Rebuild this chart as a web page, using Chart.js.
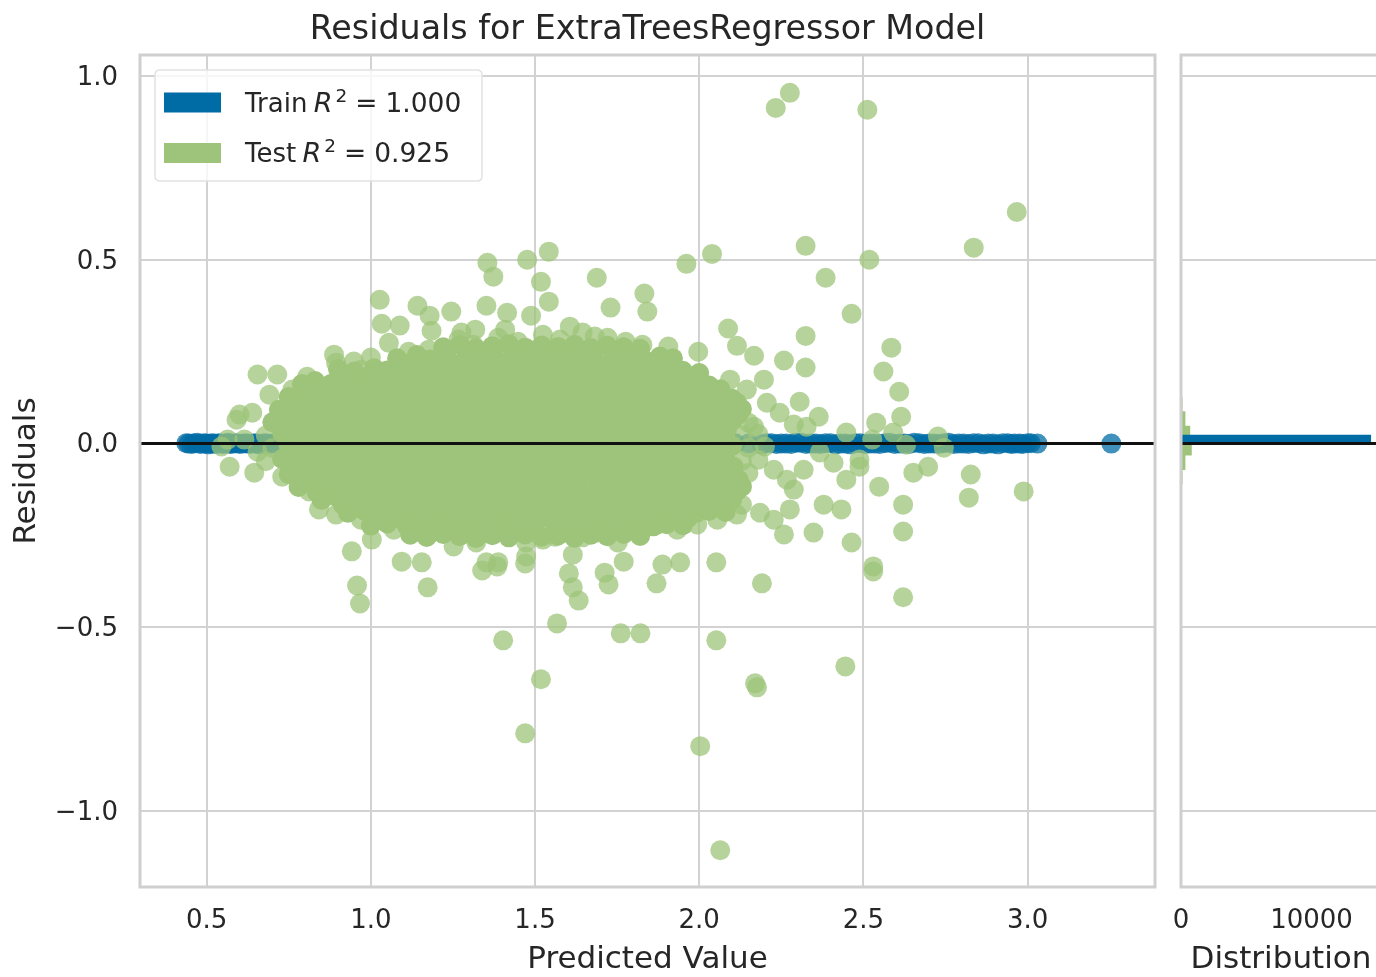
<!DOCTYPE html>
<html>
<head>
<meta charset="utf-8">
<script src="https://cdn.jsdelivr.net/npm/chart.js@4.4.1/dist/chart.umd.min.js"></script>
<style>
html,body{margin:0;padding:0;background:#fff;overflow:hidden;}
#wrap{position:relative;width:1376px;height:977px;overflow:hidden;background:#fff;}
#main{position:absolute;left:0;top:0;}
#hist{position:absolute;left:1165px;top:0;}
</style>
</head>
<body>
<div id="wrap">
<canvas id="main" width="1165" height="977"></canvas>
<canvas id="hist" width="226" height="977"></canvas>
</div>
<script>
// ---------------- data ----------------
const titleText = 'Residuals for ExtraTreesRegressor Model';
const xLabel = 'Predicted Value';
const yLabel = 'Residuals';
const distLabel = 'Distribution';

const xTicks = [0.5, 1.0, 1.5, 2.0, 2.5, 3.0];
const yTicks = [-1.0, -0.5, 0.0, 0.5, 1.0];
const distTicks = [0, 10000];

const xRange = [0.297, 3.388];
const yRange = [-1.206, 1.057];
const distRange = [0, 15326];

const seriesNames = ['Train', 'Test'];
const seriesR2 = ['1.000', '0.925'];

// Train: [predicted, residual]
const trainPoints = [
[0.438,0.001],[0.445,0.0],[0.455,-0.001],[0.462,0.001],[0.472,0.002],[0.48,-0.001],[0.49,0.0],[0.497,0.001],
[0.505,-0.002],[0.512,0.0],[0.52,0.001],[0.527,-0.001],[0.535,0.0],[0.542,0.001],[0.55,-0.001],[0.557,0.0],
[0.565,0.002],[0.572,-0.001],[0.58,0.0],[0.59,0.001],[0.60,-0.001],[0.61,0.0],[0.62,0.001],[0.63,-0.001],
[0.64,0.0],[0.65,0.001],[0.66,-0.002],[0.67,0.0],[0.68,0.001],[0.69,-0.001],[0.70,0.0],
[0.73,-0.001],[0.76,0.002],[0.80,0.0],[0.85,-0.001],[0.90,0.001],[0.95,0.0],[1.00,-0.001],[1.06,0.001],
[1.12,0.0],[1.18,-0.002],[1.24,0.001],[1.30,0.0],[1.36,-0.001],[1.42,0.002],[1.48,0.0],[1.54,-0.001],
[1.60,0.001],[1.66,0.0],[1.72,-0.001],[1.78,0.002],[1.84,0.0],[1.90,-0.001],[1.96,0.001],[2.02,0.0],
[2.07,-0.001],[2.11,0.001],[2.15,0.0],[2.19,-0.002],[2.205,0.001],[2.22,0.001],[2.235,-0.001],[2.25,0.0],
[2.265,0.0],[2.28,-0.001],[2.295,0.002],[2.31,0.002],[2.325,-0.001],[2.34,0.0],[2.355,0.0],[2.37,-0.001],
[2.385,0.001],[2.40,0.001],[2.415,-0.002],[2.43,0.0],[2.445,0.0],[2.46,-0.002],[2.475,0.001],[2.49,0.001],
[2.505,-0.001],[2.52,0.0],[2.535,0.0],[2.55,-0.001],[2.565,0.001],[2.58,0.002],[2.595,-0.001],[2.61,0.0],
[2.625,0.0],[2.64,-0.001],[2.655,0.002],[2.67,0.001],[2.685,-0.001],[2.70,0.0],[2.715,0.0],[2.73,-0.001],
[2.745,0.001],[2.76,0.002],[2.775,-0.001],[2.79,0.0],[2.805,0.0],[2.82,-0.001],[2.835,0.001],[2.85,0.001],
[2.865,-0.002],[2.88,0.0],[2.895,0.0],[2.91,-0.002],[2.925,0.001],[2.94,0.001],[2.95,-0.001],[2.96,0.0],
[2.975,0.0],[2.985,-0.001],[3.0,0.001],[3.01,0.001],[3.03,0.0],[3.255,0.0]
];

// Test: dense core of the cloud, [predicted, residual]
const testCore = [
[1.22,0.262],[1.27,0.268],[1.32,0.259],[1.37,0.265],[1.42,0.270],[1.47,0.261],[1.52,0.267],[1.57,0.263],[1.62,0.269],[1.67,0.260],[1.72,0.266],[1.77,0.262],[1.82,0.258],
[1.08,0.232],[1.14,0.241],[1.18,0.229],[1.23,0.238],[1.29,0.233],[1.33,0.244],[1.38,0.231],[1.44,0.237],[1.48,0.242],[1.53,0.228],[1.59,0.236],[1.63,0.240],[1.68,0.230],[1.74,0.235],[1.78,0.243],[1.83,0.229],[1.88,0.237],[1.92,0.232],
[0.90,0.203],[0.95,0.196],[1.01,0.205],[1.05,0.199],[1.10,0.193],[1.16,0.204],[1.20,0.198],[1.25,0.207],[1.31,0.195],[1.35,0.201],[1.40,0.206],[1.46,0.197],[1.50,0.203],[1.55,0.194],[1.61,0.202],[1.65,0.199],[1.70,0.205],[1.76,0.196],[1.80,0.201],[1.85,0.194],[1.91,0.204],[1.95,0.198],[2.00,0.192],
[0.79,0.162],[0.83,0.170],[0.88,0.163],[0.94,0.168],[0.98,0.159],[1.03,0.166],[1.09,0.171],[1.13,0.161],[1.18,0.167],[1.24,0.163],[1.28,0.169],[1.33,0.160],[1.39,0.166],[1.43,0.172],[1.48,0.162],[1.54,0.167],[1.58,0.164],[1.63,0.170],[1.69,0.161],[1.73,0.166],[1.78,0.168],[1.84,0.160],[1.88,0.165],[1.93,0.171],[1.98,0.162],[2.03,0.158],
[0.75,0.127],[0.80,0.134],[0.86,0.129],[0.90,0.136],[0.95,0.125],[1.01,0.131],[1.05,0.128],[1.10,0.135],[1.16,0.126],[1.20,0.132],[1.25,0.129],[1.31,0.136],[1.35,0.124],[1.40,0.130],[1.46,0.133],[1.50,0.127],[1.55,0.135],[1.61,0.128],[1.65,0.131],[1.70,0.126],[1.76,0.134],[1.80,0.129],[1.85,0.132],[1.91,0.125],[1.95,0.131],[2.00,0.136],[2.06,0.127],[2.10,0.122],
[0.72,0.092],[0.78,0.098],[0.83,0.091],[0.88,0.097],[0.94,0.094],[0.98,0.100],[1.03,0.090],[1.09,0.096],[1.13,0.093],[1.18,0.099],[1.24,0.091],[1.28,0.097],[1.33,0.094],[1.39,0.100],[1.43,0.092],[1.48,0.095],[1.54,0.098],[1.58,0.090],[1.63,0.096],[1.69,0.093],[1.73,0.099],[1.78,0.091],[1.84,0.097],[1.88,0.094],[1.93,0.100],[1.99,0.092],[2.03,0.096],[2.08,0.090],[2.13,0.094],
[0.70,0.058],[0.75,0.064],[0.81,0.057],[0.85,0.062],[0.90,0.055],[0.96,0.061],[1.00,0.065],[1.05,0.056],[1.11,0.062],[1.15,0.059],[1.20,0.064],[1.26,0.055],[1.30,0.061],[1.35,0.058],[1.41,0.063],[1.45,0.056],[1.50,0.062],[1.56,0.059],[1.60,0.064],[1.65,0.057],[1.71,0.061],[1.75,0.055],[1.80,0.063],[1.86,0.058],[1.90,0.061],[1.95,0.056],[2.01,0.064],[2.05,0.059],[2.10,0.062],
[0.73,0.028],[0.78,0.021],[0.84,0.027],[0.88,0.024],[0.93,0.030],[0.99,0.020],[1.03,0.026],[1.08,0.023],[1.14,0.029],[1.18,0.021],[1.23,0.027],[1.29,0.024],[1.33,0.030],[1.38,0.022],[1.44,0.025],[1.48,0.028],[1.53,0.020],[1.59,0.026],[1.63,0.023],[1.68,0.029],[1.74,0.021],[1.78,0.027],[1.83,0.024],[1.89,0.030],[1.93,0.022],[1.98,0.026],[2.04,0.020],[2.08,0.028],
[0.75,-0.006],[0.81,-0.013],[0.85,-0.007],[0.90,-0.010],[0.96,-0.004],[1.00,-0.014],[1.05,-0.008],[1.11,-0.011],[1.15,-0.005],[1.20,-0.013],[1.26,-0.007],[1.30,-0.010],[1.35,-0.004],[1.41,-0.012],[1.45,-0.009],[1.50,-0.006],[1.56,-0.014],[1.60,-0.008],[1.65,-0.011],[1.71,-0.005],[1.75,-0.013],[1.80,-0.007],[1.86,-0.010],[1.90,-0.004],[1.95,-0.012],[2.01,-0.008],[2.05,-0.014],[2.10,-0.006],
[0.73,-0.042],[0.78,-0.049],[0.84,-0.043],[0.88,-0.046],[0.93,-0.040],[0.99,-0.050],[1.03,-0.044],[1.08,-0.047],[1.14,-0.041],[1.18,-0.049],[1.23,-0.043],[1.29,-0.046],[1.33,-0.040],[1.38,-0.048],[1.44,-0.045],[1.48,-0.042],[1.53,-0.050],[1.59,-0.044],[1.63,-0.047],[1.68,-0.041],[1.74,-0.049],[1.78,-0.043],[1.83,-0.046],[1.89,-0.040],[1.93,-0.048],[1.98,-0.044],[2.04,-0.050],[2.08,-0.042],
[0.75,-0.083],[0.80,-0.077],[0.86,-0.084],[0.90,-0.078],[0.95,-0.081],[1.01,-0.075],[1.05,-0.085],[1.10,-0.079],[1.16,-0.082],[1.20,-0.076],[1.25,-0.084],[1.31,-0.078],[1.35,-0.081],[1.40,-0.075],[1.46,-0.083],[1.50,-0.080],[1.55,-0.077],[1.61,-0.085],[1.65,-0.079],[1.70,-0.082],[1.76,-0.076],[1.80,-0.084],[1.85,-0.078],[1.91,-0.081],[1.95,-0.075],[2.00,-0.083],[2.06,-0.079],[2.10,-0.085],
[0.78,-0.118],[0.83,-0.112],[0.88,-0.119],[0.94,-0.113],[0.98,-0.116],[1.03,-0.110],[1.09,-0.120],[1.13,-0.114],[1.18,-0.117],[1.24,-0.111],[1.28,-0.119],[1.33,-0.113],[1.39,-0.116],[1.43,-0.110],[1.48,-0.118],[1.54,-0.115],[1.58,-0.112],[1.63,-0.120],[1.69,-0.114],[1.73,-0.117],[1.78,-0.111],[1.84,-0.119],[1.88,-0.113],[1.93,-0.116],[1.99,-0.110],[2.03,-0.118],[2.08,-0.114],[2.13,-0.117],
[0.85,-0.153],[0.90,-0.147],[0.96,-0.154],[1.00,-0.148],[1.05,-0.151],[1.11,-0.145],[1.15,-0.155],[1.20,-0.149],[1.26,-0.152],[1.30,-0.146],[1.35,-0.154],[1.41,-0.148],[1.45,-0.151],[1.50,-0.145],[1.56,-0.153],[1.60,-0.150],[1.65,-0.147],[1.71,-0.155],[1.75,-0.149],[1.80,-0.152],[1.86,-0.146],[1.90,-0.154],[1.95,-0.148],[2.01,-0.151],[2.05,-0.145],[2.10,-0.153],
[0.93,-0.188],[0.98,-0.182],[1.03,-0.189],[1.09,-0.183],[1.13,-0.186],[1.18,-0.180],[1.24,-0.190],[1.28,-0.184],[1.33,-0.187],[1.39,-0.181],[1.43,-0.189],[1.48,-0.183],[1.54,-0.186],[1.58,-0.180],[1.63,-0.188],[1.69,-0.185],[1.73,-0.182],[1.78,-0.190],[1.84,-0.184],[1.88,-0.187],[1.93,-0.181],[1.99,-0.189],[2.03,-0.183],[2.08,-0.186],
[1.00,-0.223],[1.05,-0.217],[1.11,-0.224],[1.15,-0.218],[1.20,-0.221],[1.26,-0.215],[1.30,-0.225],[1.35,-0.219],[1.41,-0.222],[1.45,-0.216],[1.50,-0.224],[1.56,-0.218],[1.60,-0.221],[1.65,-0.215],[1.71,-0.223],[1.75,-0.220],[1.80,-0.217],[1.86,-0.225],[1.90,-0.219],[1.95,-0.222],
[1.12,-0.248],[1.17,-0.254],[1.22,-0.246],[1.27,-0.252],[1.32,-0.257],[1.37,-0.249],[1.42,-0.255],[1.47,-0.247],[1.52,-0.253],[1.57,-0.250],[1.62,-0.256],[1.67,-0.248],[1.72,-0.252],[1.77,-0.246],[1.82,-0.251]
];

// Test: further core points lying between the rows above
const testCoreMid = [
[1.115,0.218],[1.165,0.215],[1.215,0.220],[1.265,0.216],[1.315,0.219],[1.365,0.214],[1.415,0.221],[1.465,0.217],[1.515,0.215],[1.565,0.220],[1.615,0.216],[1.665,0.219],[1.715,0.214],[1.765,0.218],[1.815,0.221],[1.865,0.216],[1.915,0.219],
[0.915,0.183],[0.965,0.180],[1.015,0.185],[1.065,0.181],[1.115,0.184],[1.165,0.179],[1.215,0.186],[1.265,0.182],[1.315,0.180],[1.365,0.185],[1.415,0.181],[1.465,0.184],[1.515,0.179],[1.565,0.183],[1.615,0.186],[1.665,0.181],[1.715,0.184],[1.765,0.180],[1.815,0.185],[1.865,0.182],[1.915,0.179],[1.965,0.184],
[0.815,0.148],[0.865,0.145],[0.915,0.150],[0.965,0.146],[1.015,0.149],[1.065,0.144],[1.115,0.151],[1.165,0.147],[1.215,0.145],[1.265,0.150],[1.315,0.146],[1.365,0.149],[1.415,0.144],[1.465,0.148],[1.515,0.151],[1.565,0.146],[1.615,0.149],[1.665,0.145],[1.715,0.150],[1.765,0.147],[1.815,0.144],[1.865,0.149],[1.915,0.146],[1.965,0.150],[2.015,0.145],[2.065,0.148],
[0.765,0.113],[0.815,0.110],[0.865,0.115],[0.915,0.111],[0.965,0.114],[1.015,0.109],[1.065,0.116],[1.115,0.112],[1.165,0.110],[1.215,0.115],[1.265,0.111],[1.315,0.114],[1.365,0.109],[1.415,0.113],[1.465,0.116],[1.515,0.111],[1.565,0.114],[1.615,0.110],[1.665,0.115],[1.715,0.112],[1.765,0.109],[1.815,0.114],[1.865,0.111],[1.915,0.115],[1.965,0.110],[2.015,0.113],[2.065,0.116],[2.115,0.111],
[0.735,0.078],[0.785,0.075],[0.835,0.080],[0.885,0.076],[0.935,0.079],[0.985,0.074],[1.035,0.081],[1.085,0.077],[1.135,0.075],[1.185,0.080],[1.235,0.076],[1.285,0.079],[1.335,0.074],[1.385,0.078],[1.435,0.081],[1.485,0.076],[1.535,0.079],[1.585,0.075],[1.635,0.080],[1.685,0.077],[1.735,0.074],[1.785,0.079],[1.835,0.076],[1.885,0.080],[1.935,0.075],[1.985,0.078],[2.035,0.081],[2.085,0.076],[2.12,0.079],
[0.735,0.043],[0.785,0.040],[0.835,0.045],[0.885,0.041],[0.935,0.044],[0.985,0.039],[1.035,0.046],[1.085,0.042],[1.135,0.040],[1.185,0.045],[1.235,0.041],[1.285,0.044],[1.335,0.039],[1.385,0.043],[1.435,0.046],[1.485,0.041],[1.535,0.044],[1.585,0.040],[1.635,0.045],[1.685,0.042],[1.735,0.039],[1.785,0.044],[1.835,0.041],[1.885,0.045],[1.935,0.040],[1.985,0.043],[2.035,0.046],[2.085,0.041],
[0.765,0.008],[0.815,0.005],[0.865,0.010],[0.915,0.006],[0.965,0.009],[1.015,0.004],[1.065,0.011],[1.115,0.007],[1.165,0.005],[1.215,0.010],[1.265,0.006],[1.315,0.009],[1.365,0.004],[1.415,0.008],[1.465,0.011],[1.515,0.006],[1.565,0.009],[1.615,0.005],[1.665,0.010],[1.715,0.007],[1.765,0.004],[1.815,0.009],[1.865,0.006],[1.915,0.010],[1.965,0.005],[2.015,0.008],[2.065,0.011],
[0.765,-0.027],[0.815,-0.030],[0.865,-0.025],[0.915,-0.029],[0.965,-0.026],[1.015,-0.031],[1.065,-0.024],[1.115,-0.028],[1.165,-0.030],[1.215,-0.025],[1.265,-0.029],[1.315,-0.026],[1.365,-0.031],[1.415,-0.027],[1.465,-0.024],[1.515,-0.029],[1.565,-0.026],[1.615,-0.030],[1.665,-0.025],[1.715,-0.028],[1.765,-0.031],[1.815,-0.026],[1.865,-0.029],[1.915,-0.025],[1.965,-0.030],[2.015,-0.027],[2.065,-0.024],
[0.765,-0.062],[0.815,-0.065],[0.865,-0.060],[0.915,-0.064],[0.965,-0.061],[1.015,-0.066],[1.065,-0.059],[1.115,-0.063],[1.165,-0.065],[1.215,-0.060],[1.265,-0.064],[1.315,-0.061],[1.365,-0.066],[1.415,-0.062],[1.465,-0.059],[1.515,-0.064],[1.565,-0.061],[1.615,-0.065],[1.665,-0.060],[1.715,-0.063],[1.765,-0.066],[1.815,-0.061],[1.865,-0.064],[1.915,-0.060],[1.965,-0.065],[2.015,-0.062],[2.065,-0.059],[2.105,-0.063],
[0.785,-0.097],[0.835,-0.100],[0.885,-0.095],[0.935,-0.099],[0.985,-0.096],[1.035,-0.101],[1.085,-0.094],[1.135,-0.098],[1.185,-0.100],[1.235,-0.095],[1.285,-0.099],[1.335,-0.096],[1.385,-0.101],[1.435,-0.097],[1.485,-0.094],[1.535,-0.099],[1.585,-0.096],[1.635,-0.100],[1.685,-0.095],[1.735,-0.098],[1.785,-0.101],[1.835,-0.096],[1.885,-0.099],[1.935,-0.095],[1.985,-0.100],[2.035,-0.097],[2.085,-0.094],[2.12,-0.098],
[0.835,-0.132],[0.885,-0.135],[0.935,-0.130],[0.985,-0.134],[1.035,-0.131],[1.085,-0.136],[1.135,-0.129],[1.185,-0.133],[1.235,-0.135],[1.285,-0.130],[1.335,-0.134],[1.385,-0.131],[1.435,-0.136],[1.485,-0.132],[1.535,-0.129],[1.585,-0.134],[1.635,-0.131],[1.685,-0.135],[1.735,-0.130],[1.785,-0.133],[1.835,-0.136],[1.885,-0.131],[1.935,-0.134],[1.985,-0.130],[2.035,-0.135],[2.085,-0.132],[2.115,-0.129],
[0.915,-0.167],[0.965,-0.170],[1.015,-0.165],[1.065,-0.169],[1.115,-0.166],[1.165,-0.171],[1.215,-0.164],[1.265,-0.168],[1.315,-0.170],[1.365,-0.165],[1.415,-0.169],[1.465,-0.166],[1.515,-0.171],[1.565,-0.167],[1.615,-0.164],[1.665,-0.169],[1.715,-0.166],[1.765,-0.170],[1.815,-0.165],[1.865,-0.168],[1.915,-0.171],[1.965,-0.166],[2.015,-0.169],[2.065,-0.165],
[1.015,-0.202],[1.065,-0.205],[1.115,-0.200],[1.165,-0.204],[1.215,-0.201],[1.265,-0.206],[1.315,-0.199],[1.365,-0.203],[1.415,-0.205],[1.465,-0.200],[1.515,-0.204],[1.565,-0.201],[1.615,-0.206],[1.665,-0.202],[1.715,-0.199],[1.765,-0.204],[1.815,-0.201],[1.865,-0.205],[1.915,-0.200],[1.965,-0.203]
];

// Test: fringe and outliers, [predicted, residual]
const testOuter = [
[0.68,0.022],[0.70,-0.012],[0.68,-0.048],[2.15,0.057],[2.13,0.023],[2.18,0.026],[2.15,-0.011],[2.20,-0.008],
[2.13,-0.047],[2.18,-0.044],[2.15,-0.080],
[2.233,0.913],[2.276,0.954],[2.512,0.908],[2.967,0.630],[2.324,0.538],[2.836,0.533],[2.518,0.500],[2.385,0.451],
[2.039,0.516],[1.961,0.489],[2.464,0.353],[2.324,0.293],[2.585,0.261],[2.561,0.196],[2.324,0.207],[2.088,0.313],
[1.997,0.250],[2.167,0.239],[2.115,0.266],[2.258,0.226],[1.906,0.264],[1.833,0.408],[1.842,0.359],
[1.542,0.522],[1.476,0.500],[1.355,0.492],[1.373,0.454],[1.518,0.440],[1.688,0.451],[1.542,0.386],[1.352,0.375],
[1.488,0.348],[1.730,0.370],[1.027,0.391],[1.033,0.326],[1.088,0.321],[1.142,0.375],[1.179,0.348],[1.185,0.307],
[1.245,0.359],[1.276,0.302],[1.318,0.310],[1.415,0.356],[1.409,0.310],[1.682,0.291],[1.606,0.318],[1.055,0.274],
[0.888,0.242],[0.655,0.188],[0.715,0.188],[0.806,0.182],[0.970,0.201],[0.894,0.220],[0.761,0.147],[0.691,0.133],
[0.639,0.084],[0.600,0.079],[0.591,0.065],[0.564,0.011],[0.545,-0.008],[0.615,0.011],[0.655,-0.022],
[1.267,0.283],[1.312,0.269],[1.388,0.288],[1.448,0.277],[1.524,0.296],[1.576,0.283],[1.645,0.302],[1.721,0.288],
[1.776,0.277],[1.827,0.269],[1.176,0.255],[1.115,0.250],[1.000,0.234],[0.948,0.223],
[0.570,-0.063],[0.645,-0.079],[0.730,-0.090],[0.812,-0.130],[0.858,-0.147],[0.842,-0.179],[0.894,-0.193],[0.970,-0.207],
[0.942,-0.293],[1.003,-0.261],[1.094,-0.321],[1.155,-0.323],[1.124,-0.215],[1.212,-0.212],[1.252,-0.280],[1.282,-0.242],
[1.321,-0.269],[1.352,-0.323],[1.388,-0.323],[1.409,-0.226],[1.473,-0.269],[1.473,-0.307],[1.561,-0.253],[1.615,-0.302],
[1.691,-0.242],[1.752,-0.269],[1.812,-0.242],[1.070,-0.234],[1.176,-0.247],[1.524,-0.261],[1.645,-0.255],[1.873,-0.220],
[1.933,-0.234],[1.994,-0.220],[2.055,-0.207],[2.115,-0.193],[2.130,-0.166],
[0.958,-0.386],[0.967,-0.435],[1.173,-0.391],[1.339,-0.345],[1.385,-0.334],[1.470,-0.326],[1.603,-0.353],
[1.615,-0.391],[1.633,-0.427],[1.712,-0.351],[1.724,-0.383],[1.770,-0.321],[1.567,-0.489],[1.403,-0.535],[1.761,-0.516],
[1.821,-0.516],[1.518,-0.641],[1.470,-0.788],[1.888,-0.329],[1.942,-0.323],[2.052,-0.323],[1.870,-0.380],[2.191,-0.380],
[2.530,-0.348],[2.621,-0.418],[2.052,-0.535],[2.445,-0.606],[2.170,-0.652],[2.176,-0.663],[2.003,-0.823],[2.064,-1.106],
[2.609,0.141],[2.615,0.073],[2.727,0.019],[2.745,-0.011],[2.539,0.057],[2.591,0.030],[2.448,0.030],[2.488,-0.043],
[2.548,-0.117],[2.652,-0.079],[2.697,-0.063],[2.827,-0.084],[2.821,-0.147],[2.988,-0.130],[2.621,-0.166],[2.621,-0.239],
[2.433,-0.179],[2.379,-0.166],[2.464,-0.269],[2.348,-0.242],[2.258,-0.247],[2.530,-0.334],[2.306,0.114],[2.364,0.073],
[2.288,0.052],[2.448,-0.098],[2.488,-0.063],[2.276,-0.179],[2.227,-0.207],[2.185,-0.188],[2.288,-0.125],[2.409,-0.052],
[2.367,-0.024],[2.318,-0.071],[2.267,-0.098],[2.227,-0.071],[2.327,0.046],[2.245,0.084],[2.206,0.111],[2.167,0.046],
[2.145,0.147],[2.197,0.174],[2.094,0.174],[2.527,0.011],[2.630,-0.003]
];

// Histogram of residuals (bin centre, count)
const testHistCenters = [0.185, 0.146, 0.106, 0.0673, 0.0279, -0.0116, -0.051, -0.0904, -0.1298, -0.169];
const testHistCounts  = [10, 30, 90, 310, 680, 800, 310, 90, 30, 10];
const trainHistCenters = [0.014];
const trainHistCounts  = [14540];

// ---------------- styling ----------------
const FONT = "'DejaVu Sans', 'Liberation Sans', sans-serif";
const TEXT = '#262626';
const GRID = '#d2d2d2';
const SPINE = '#cfcfcf';
const TRAIN_RGB = '0,108,165';
const TEST_RGB = '157,196,122';

Chart.defaults.font.family = FONT;
Chart.defaults.color = TEXT;

const fmt1 = v => (v < 0 ? '\u2212' : '') + Math.abs(v).toFixed(1);
const noPad = s => { s.paddingLeft = 0; s.paddingRight = 0; s.paddingTop = 0; s.paddingBottom = 0; };

const framePlugin = {
  id: 'frame',
  afterDatasetsDraw(chart) {
    const ctx = chart.ctx, a = chart.chartArea;
    const y0 = chart.scales.y.getPixelForValue(0);
    ctx.save();
    ctx.strokeStyle = '#111111';
    ctx.lineWidth = 3;
    ctx.beginPath();
    ctx.moveTo(a.left, y0);
    ctx.lineTo(a.right, y0);
    ctx.stroke();
    ctx.strokeStyle = SPINE;
    ctx.lineWidth = 3;
    ctx.strokeRect(a.left, a.top, a.right - a.left, a.bottom - a.top);
    ctx.restore();
  }
};

const titlePlugin = {
  id: 'mtitle',
  afterDraw(chart) {
    const ctx = chart.ctx, a = chart.chartArea;
    ctx.save();
    ctx.fillStyle = TEXT;
    ctx.font = '33.3px ' + FONT;
    ctx.textAlign = 'center';
    ctx.textBaseline = 'middle';
    ctx.fillText(titleText, (a.left + a.right) / 2, 30);
    ctx.restore();
  }
};

const legendPlugin = {
  id: 'mlegend',
  afterDraw(chart) {
    const ctx = chart.ctx, a = chart.chartArea;
    const x0 = a.left + 15, y0 = a.top + 15, w = 327, h = 111, r = 5;
    ctx.save();
    ctx.beginPath();
    ctx.moveTo(x0 + r, y0);
    ctx.lineTo(x0 + w - r, y0);
    ctx.quadraticCurveTo(x0 + w, y0, x0 + w, y0 + r);
    ctx.lineTo(x0 + w, y0 + h - r);
    ctx.quadraticCurveTo(x0 + w, y0 + h, x0 + w - r, y0 + h);
    ctx.lineTo(x0 + r, y0 + h);
    ctx.quadraticCurveTo(x0, y0 + h, x0, y0 + h - r);
    ctx.lineTo(x0, y0 + r);
    ctx.quadraticCurveTo(x0, y0, x0 + r, y0);
    ctx.closePath();
    ctx.fillStyle = 'rgba(255,255,255,0.8)';
    ctx.fill();
    ctx.strokeStyle = '#e2e2e2';
    ctx.lineWidth = 1.5;
    ctx.stroke();
    const colors = ['rgb(' + TRAIN_RGB + ')', 'rgb(' + TEST_RGB + ')'];
    seriesNames.forEach((name, i) => {
      const cy = y0 + 32.5 + i * 50.5;
      ctx.fillStyle = colors[i];
      ctx.fillRect(x0 + 9, cy - 10, 57, 20);
      ctx.fillStyle = TEXT;
      ctx.textBaseline = 'alphabetic';
      ctx.textAlign = 'left';
      const base = cy + 9;
      let x = x0 + 90;
      ctx.font = '26px ' + FONT;
      const t1 = name + ' ';
      ctx.fillText(t1, x, base);
      x += ctx.measureText(t1).width - 2;
      ctx.font = 'italic 27px ' + FONT;
      ctx.fillText('R', x, base);
      x += ctx.measureText('R').width + 3;
      ctx.font = '18.5px ' + FONT;
      ctx.fillText('2', x, base - 10);
      x += ctx.measureText('2').width + 8;
      ctx.font = '26.5px ' + FONT;
      ctx.fillText('=', x, base);
      x += ctx.measureText('=').width + 8;
      ctx.fillText(seriesR2[i], x, base);
    });
    ctx.restore();
  }
};

// ---------------- main scatter ----------------
const toXY = arr => arr.map(p => ({ x: p[0], y: p[1] }));

new Chart(document.getElementById('main'), {
  type: 'scatter',
  data: {
    datasets: [
      {
        label: seriesNames[1],
        data: toXY(testOuter),
        order: 0,
        backgroundColor: 'rgba(' + TEST_RGB + ',0.75)',
        borderWidth: 0,
        pointRadius: 10,
        pointHoverRadius: 10
      },
      {
        label: seriesNames[1],
        data: toXY(testCore.concat(testCoreMid)),
        order: 1,
        backgroundColor: 'rgb(' + TEST_RGB + ')',
        borderWidth: 0,
        pointRadius: 10,
        pointHoverRadius: 10
      },
      {
        label: seriesNames[0],
        data: toXY(trainPoints),
        order: 2,
        backgroundColor: 'rgba(' + TRAIN_RGB + ',0.75)',
        borderWidth: 0,
        pointRadius: 10,
        pointHoverRadius: 10
      }
    ]
  },
  options: {
    responsive: false,
    animation: false,
    events: [],
    layout: { padding: { left: 0, right: 5, top: 55, bottom: 0 } },
    plugins: {
      legend: { display: false },
      tooltip: { enabled: false },
      title: { display: false }
    },
    scales: {
      x: {
        type: 'linear',
        min: xRange[0], max: xRange[1],
        afterBuildTicks: s => { s.ticks = xTicks.map(v => ({ value: v })); },
        afterFit: s => { s.height = 90; noPad(s); },
        grid: { color: GRID, lineWidth: 2, drawTicks: false },
        border: { display: false },
        ticks: { font: { size: 26 }, color: TEXT, padding: 19, callback: v => fmt1(v) },
        title: { display: true, text: xLabel, color: TEXT, font: { size: 31, lineHeight: 1 }, padding: { top: 0, bottom: 2 } }
      },
      y: {
        type: 'linear',
        min: yRange[0], max: yRange[1],
        afterBuildTicks: s => { s.ticks = yTicks.map(v => ({ value: v })); },
        afterFit: s => { s.width = 140; noPad(s); },
        grid: { color: GRID, lineWidth: 2, drawTicks: false },
        border: { display: false },
        ticks: { font: { size: 26 }, color: TEXT, padding: 22, labelOffset: 2, callback: v => fmt1(v) },
        title: { display: true, text: yLabel, color: TEXT, font: { size: 31, lineHeight: 1 }, padding: { top: 11, bottom: 0 } }
      }
    }
  },
  plugins: [framePlugin, titlePlugin, legendPlugin]
});

// ---------------- histogram ----------------
const histData = (centers, counts) => centers.map((c, i) => ({ x: counts[i], y: c }));

new Chart(document.getElementById('hist'), {
  type: 'bar',
  data: {
    datasets: [
      {
        label: seriesNames[1],
        data: histData(testHistCenters, testHistCounts),
        backgroundColor: 'rgb(' + TEST_RGB + ')',
        borderWidth: 0,
        barThickness: 14.5,
        grouped: false,
        order: 1
      },
      {
        label: seriesNames[0],
        data: histData(trainHistCenters, trainHistCounts),
        backgroundColor: 'rgb(' + TRAIN_RGB + ')',
        borderWidth: 0,
        barThickness: 7,
        grouped: false,
        order: 0
      }
    ]
  },
  options: {
    indexAxis: 'y',
    responsive: false,
    animation: false,
    events: [],
    layout: { padding: { left: 0, right: 10, top: 55, bottom: 0 } },
    plugins: { legend: { display: false }, tooltip: { enabled: false }, title: { display: false } },
    scales: {
      x: {
        type: 'linear',
        position: 'bottom',
        min: distRange[0], max: distRange[1],
        offset: false,
        afterBuildTicks: s => { s.ticks = distTicks.map(v => ({ value: v })); },
        afterFit: s => { s.height = 90; noPad(s); },
        grid: { display: false, drawTicks: false, offset: false },
        border: { display: false },
        ticks: { font: { size: 26 }, color: TEXT, padding: 19, callback: v => String(v) },
        title: { display: true, text: distLabel, color: TEXT, font: { size: 31, lineHeight: 1 }, padding: { top: 0, bottom: 2 } }
      },
      y: {
        type: 'linear',
        position: 'left',
        min: yRange[0], max: yRange[1],
        offset: false,
        afterBuildTicks: s => { s.ticks = yTicks.map(v => ({ value: v })); },
        afterFit: s => { s.width = 16; noPad(s); },
        grid: { color: GRID, lineWidth: 2, drawTicks: false, offset: false },
        border: { display: false },
        ticks: { display: false }
      }
    }
  },
  plugins: [framePlugin]
});
</script>
</body>
</html>
